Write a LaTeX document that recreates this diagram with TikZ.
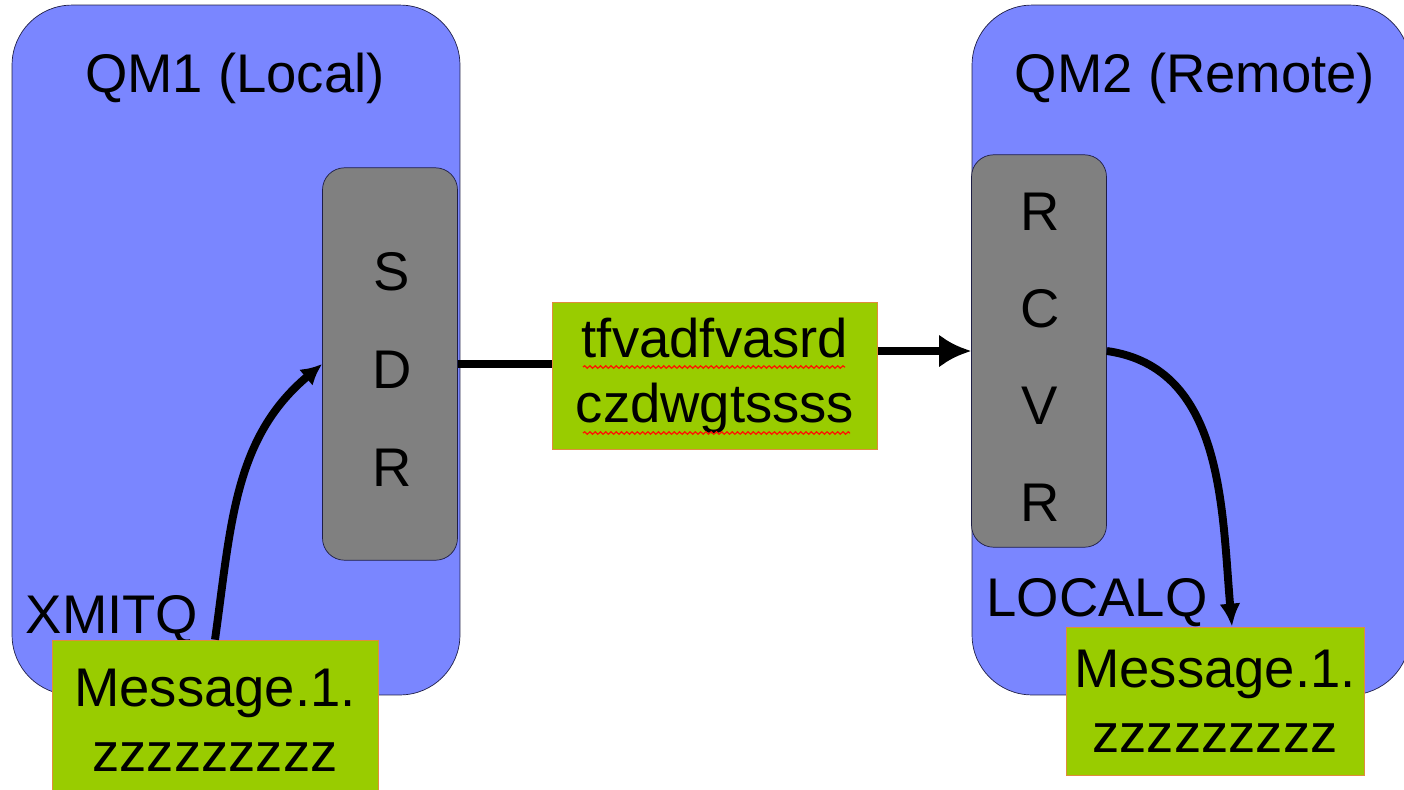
\documentclass[tikz,border=0pt]{standalone}
\usepackage{fontspec}
\setmainfont{Liberation Sans}
\usetikzlibrary{arrows.meta,decorations.pathmorphing}
\definecolor{qmblue}{RGB}{122,134,255}
\definecolor{chgrey}{RGB}{128,128,128}
\definecolor{msggreen}{RGB}{153,204,0}
\definecolor{msgedge}{RGB}{224,140,60}
\definecolor{darknavy}{RGB}{30,30,70}

\begin{document}
\begin{tikzpicture}[x=0.02cm,y=0.02cm,>={Latex[length=0.64cm,width=0.66cm]},
	every node/.style={font=\fontsize{31pt}{37pt}\selectfont},
	qmbox/.style={draw=darknavy,fill=qmblue,rounded corners=1.2cm,minimum height=13.8cm},
	chanbox/.style={draw=darknavy,fill=chgrey,rounded corners=0.44cm,minimum width=2.7cm,minimum height=7.85cm},
	msgbox/.style={draw=msgedge,fill=msggreen,align=center,inner sep=0pt},
	flow/.style={line width=4.5pt},
	spell/.style={red!85!orange,line width=0.7pt,decorate,decoration={snake,amplitude=0.7pt,segment length=3pt}}]
\useasboundingbox (0,0) rectangle (1404,-789);

\node[qmbox,minimum width=8.96cm] (qm1) at (236,-350) {};
\node[qmbox,minimum width=8.76cm] (qm2) at (1191,-350) {};
\node (qm1label) at (235,-78) {QM1 (Local)};
\node (qm2label) at (1195,-78) {QM2 (Remote)};

\node[chanbox] (sdr) at (390,-364) {};
\node[chanbox] (rcvr) at (1039,-351) {};
\foreach \ch [count=\i] in {S,D,R}{
	\node (sdr\i) at (392,{-174-98*\i}) {\ch};
}
\foreach \ch [count=\i] in {R,C,V,R}{
	\node (rcvr\i) at (1040,{-115-97*\i}) {\ch};
}

\node (xmit) at (112,-620) {XMITQ};
\node (localq) at (1097,-603) {LOCALQ};

\node[msgbox,minimum width=6.5cm,minimum height=2.94cm] (wire) at (715,-376)
	{tfvadfvasrd\\czdwgtssss};
\node[msgbox,minimum width=6.52cm,minimum height=3.2cm] (msgl) at (215,-720)
	{Message.1.\\zzzzzzzzz};
\node[msgbox,minimum width=5.96cm,minimum height=2.96cm] (msgr) at (1215,-701)
	{Message.1.\\zzzzzzzzz};

\draw[spell] (583,-367) -- (845,-367);
\draw[spell] (583,-433) -- (850,-433);

\draw[flow,-{Latex[length=0.42cm,width=0.42cm]}] (msgl.north) to[out=82,in=220] (sdr.west);
\draw[flow] (sdr.east) -- (sdr.east -| wire.west);
\draw[flow,->] (wire.east |- rcvr.west) -- (rcvr.west);
\draw[flow,-{Latex[length=0.46cm,width=0.42cm]}] (rcvr.east) to[out=-8,in=95] ([xshift=0.34cm]msgr.north);

\end{tikzpicture}
\end{document}
